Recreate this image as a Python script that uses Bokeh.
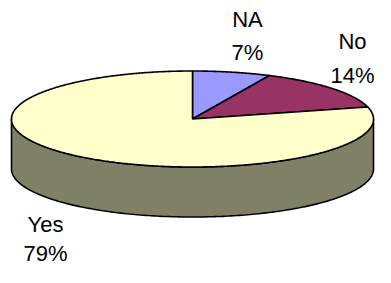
import numpy as np
from bokeh.plotting import figure
from bokeh.models import Range1d
from bokeh.core.properties import value
from bokeh.embed import file_html
from bokeh.resources import INLINE

# ---- data ----
categories = ["NA", "No", "Yes"]
percents = [7, 14, 79]
colors = ["#9999FF", "#993366", "#FFFFCC"]
side_color = "#808066"

# ---- layout (screen-like units, y grows downward) ----
cx, cy = 192.0, 118.5      # pie centre
ra, rb = 181.0, 48.0       # ellipse semi-axes
depth = 50.0               # cylinder height
label_pos = {"NA": (247, 19, 52), "No": (352, 41, 75), "Yes": (45, 224, 253)}
font_px = "22px"

W, H = 375, 267
p = figure(width=W, height=H, output_backend="svg", toolbar_location=None,
           x_range=Range1d(0, W), y_range=Range1d(H, 0),
           min_border=0, outline_line_color=None)
p.axis.visible = False
p.grid.visible = False
p.background_fill_color = "white"
p.border_fill_color = "white"


def ell(theta_deg, dy=0.0):
    t = np.radians(theta_deg)
    return cx + ra * np.cos(t), cy - rb * np.sin(t) + dy


# side (front half of the cylinder)
th = np.linspace(180, 360, 200)
x1, y1 = ell(th)
x2, y2 = ell(th[::-1], depth)
p.patch(np.concatenate([x1, x2]), np.concatenate([y1, y2]),
        fill_color=side_color, line_color="black", line_width=1.6)

# top slices, clockwise starting at 12 o'clock
total = float(sum(percents))
start = 90.0
for cat, pct, col in zip(categories, percents, colors):
    sweep = 360.0 * pct / total
    end = start - sweep
    th = np.linspace(start, end, max(int(sweep * 2), 10))
    xs, ys = ell(th)
    xs = np.concatenate([[cx], xs])
    ys = np.concatenate([[cy], ys])
    p.patch(xs, ys, fill_color=col, line_color="black", line_width=1.6)
    start = end

# labels
for cat, pct in zip(categories, percents):
    lx, ly1, ly2 = label_pos[cat]
    p.text(x=[lx, lx], y=[ly1, ly2], text=[cat, f"{pct}%"],
           text_align="center", text_baseline="alphabetic",
           text_font=value("Liberation Sans"), text_font_size=font_px,
           text_color="black")

open("out.html", "w").write(file_html(p, INLINE))
